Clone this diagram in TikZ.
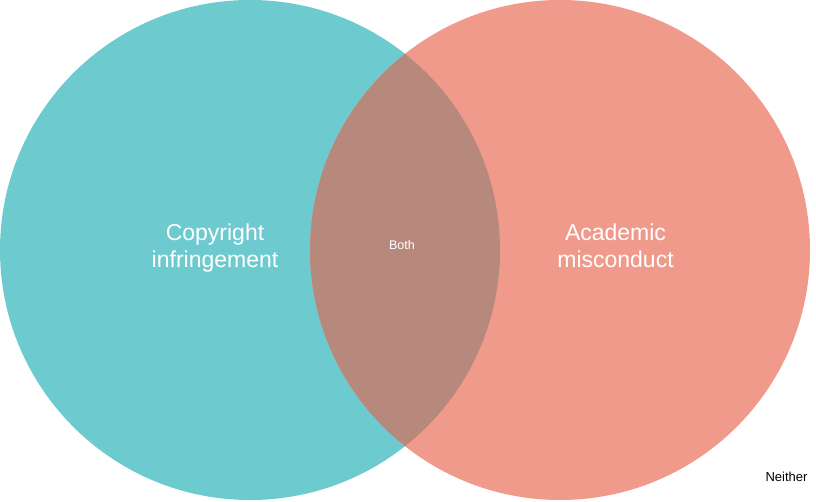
\documentclass[tikz,border=0pt]{standalone}
\usepackage{fontspec}
\setmainfont{Liberation Sans}
\definecolor{teal}{HTML}{6DCBD0}
\definecolor{salmon}{HTML}{F09A8B}
\definecolor{overlap}{HTML}{B7887C}
\begin{document}
\begin{tikzpicture}[x=1pt,y=-1pt,
  biglabel/.style={text=white,font=\fontsize{23}{27}\selectfont,align=center,
    text height=17pt,text depth=32pt},
  smalllabel/.style={font=\fontsize{12.5}{14}\selectfont}]
\useasboundingbox (0,0) rectangle (816,502);
% the two sets
\fill[teal] (250,250) circle[radius=250];
\fill[salmon] (560,250) circle[radius=250];
% their intersection
\begin{scope}
  \clip (250,250) circle[radius=250];
  \fill[overlap] (560,250) circle[radius=250];
\end{scope}
\node[biglabel] (copy) at (215,275.5) {Copyright\\infringement};
\node[biglabel] (acad) at (615.5,275.5) {Academic\\misconduct};
\node[smalllabel,text=white] (both) at (402,245.5) {Both};
\node[smalllabel,text=black,font=\fontsize{13}{15}\selectfont] (neither) at (786.5,477) {Neither};
\end{tikzpicture}
\end{document}
